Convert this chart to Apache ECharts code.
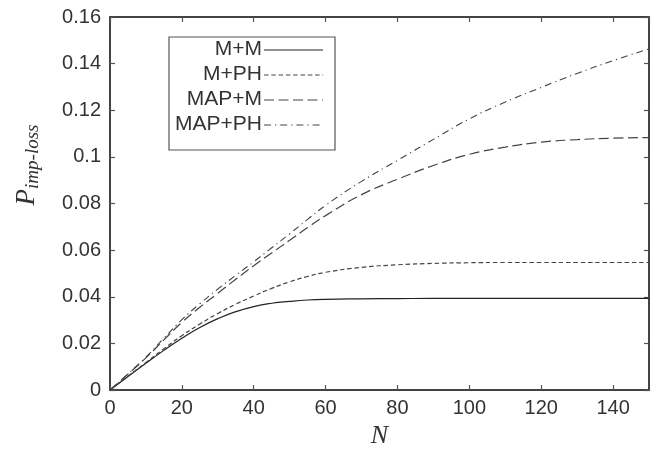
<!DOCTYPE html>
<html>
<head>
<meta charset="utf-8">
<script src="https://cdn.jsdelivr.net/npm/echarts@6/dist/echarts.min.js"></script>
<style>
html,body{margin:0;padding:0;background:#fff;}
#chart{width:651px;height:456px;}
</style>
</head>
<body>
<div id="chart"></div>
<script>
// ---- data ----
var N = [0, 5, 10, 15, 20, 25, 30, 35, 40, 45, 50, 55, 60, 70, 80, 90, 100, 110, 120, 130, 140, 150];
var mPlusM   = [0, 0.0058, 0.0115, 0.0170, 0.0222, 0.0268, 0.0306, 0.0336, 0.0358, 0.0372, 0.0380, 0.0386, 0.0389, 0.0391, 0.0392, 0.0393, 0.0393, 0.0393, 0.0393, 0.0393, 0.0393, 0.0393];
var mPlusPH  = [0, 0.0059, 0.0118, 0.0177, 0.0233, 0.0283, 0.0328, 0.0368, 0.0403, 0.0436, 0.0464, 0.0487, 0.0505, 0.0526, 0.0537, 0.0543, 0.0546, 0.0547, 0.0547, 0.0547, 0.0547, 0.0547];
var mapPlusM = [0, 0.0068, 0.0138, 0.0215, 0.0290, 0.0355, 0.0415, 0.0475, 0.0533, 0.0588, 0.0642, 0.0697, 0.0748, 0.0838, 0.0904, 0.0963, 0.1011, 0.1042, 0.1063, 0.1074, 0.1080, 0.1083];
var mapPlusPH= [0, 0.0069, 0.0141, 0.0222, 0.0302, 0.0370, 0.0433, 0.0492, 0.0550, 0.0610, 0.0670, 0.0732, 0.0792, 0.0895, 0.0985, 0.1075, 0.1163, 0.1235, 0.1298, 0.1358, 0.1413, 0.1463];
var seriesNames = ['M+M', 'M+PH', 'MAP+M', 'MAP+PH'];
var seriesValues = [mPlusM, mPlusPH, mapPlusM, mapPlusPH];
var xTicks = [0, 20, 40, 60, 80, 100, 120, 140];
var yTicks = [0, 0.02, 0.04, 0.06, 0.08, 0.1, 0.12, 0.14, 0.16];

// ---- styles ----
var dashes = ['solid', [4.5, 2.8], [10, 4.5], [7, 4, 1.2, 4]];
var colors = ['#222', '#444', '#444', '#444'];
var widths = [1.2, 1.2, 1.2, 1.1];
var sans = '"Liberation Sans", Arial, sans-serif';
var serif = '"Liberation Serif", "Times New Roman", serif';

function pairs(vals) {
  return N.map(function (n, i) { return [n, vals[i]]; });
}
function axisLine() { return {show: true, onZero: false, lineStyle: {color: '#444', width: 2}}; }
function axisTick() { return {show: true, inside: true, length: 5, lineStyle: {color: '#555', width: 1.2}}; }

var chart = echarts.init(document.getElementById('chart'), null, {renderer: 'canvas'});

var series = seriesNames.map(function (name, i) {
  return {
    name: name, type: 'line', data: pairs(seriesValues[i]),
    smooth: 0.5, showSymbol: false, symbol: 'none',
    lineStyle: {color: colors[i], width: widths[i], type: dashes[i]},
    xAxisIndex: 0, yAxisIndex: 0, silent: true, animation: false
  };
});

// legend via graphic (right-aligned labels, sample line on right)
var legendX = 169, legendY = 37, legendW = 166, legendH = 113;
var rowY = [49, 74, 99, 124];
var graphics = [{
  type: 'rect', shape: {x: legendX, y: legendY, width: legendW, height: legendH},
  style: {fill: '#fff', stroke: '#555', lineWidth: 1.2}, z: 100
}];
seriesNames.forEach(function (name, i) {
  graphics.push({
    type: 'text', z: 101, x: 262, y: rowY[i],
    style: {text: name, align: 'right', verticalAlign: 'middle', fill: '#333',
      font: '21px ' + sans}
  });
  graphics.push({
    type: 'line', z: 101, shape: {x1: 264, y1: rowY[i] + 1, x2: 323, y2: rowY[i] + 1},
    style: {stroke: colors[i], lineWidth: widths[i], lineDash: dashes[i] === 'solid' ? null : dashes[i]}
  });
});
// y-axis title
graphics.push({
  type: 'text', z: 101, x: 27, y: 165, rotation: Math.PI / 2,
  style: {
    text: '{a|P}{b|imp-loss}', align: 'center', verticalAlign: 'middle',
    rich: {
      a: {fontFamily: serif, fontStyle: 'italic', fontSize: 27, fill: '#333'},
      b: {fontFamily: serif, fontStyle: 'italic', fontSize: 19, fill: '#333', padding: [12, 0, 0, 0]}
    }
  }
});

var option = {
  animation: false,
  backgroundColor: '#fff',
  grid: {left: 110, right: 2, top: 17, bottom: 66, containLabel: false},
  xAxis: [{
    type: 'value', min: 0, max: 150, interval: 20, position: 'bottom',
    name: 'N', nameLocation: 'middle', nameGap: 30,
    nameTextStyle: {fontFamily: serif, fontStyle: 'italic', fontSize: 26, color: '#333'},
    axisLine: axisLine(), axisTick: axisTick(), splitLine: {show: false},
    axisLabel: {show: true, margin: 8, showMaxLabel: false,
      color: '#333', fontSize: 20, fontFamily: sans,
      formatter: function (v) { return xTicks.indexOf(v) >= 0 ? String(v) : ''; }}
  }, {
    type: 'value', min: 0, max: 150, interval: 20, position: 'top',
    axisLine: axisLine(), axisTick: axisTick(), splitLine: {show: false}, axisLabel: {show: false}
  }],
  yAxis: [{
    type: 'value', min: 0, max: 0.16, interval: 0.02, position: 'left',
    axisLine: axisLine(), axisTick: axisTick(), splitLine: {show: false},
    axisLabel: {show: true, margin: 9, color: '#333', fontSize: 20, fontFamily: sans,
      formatter: function (v) {
        for (var k = 0; k < yTicks.length; k++) { if (Math.abs(yTicks[k] - v) < 1e-9) return String(yTicks[k]); }
        return '';
      }}
  }, {
    type: 'value', min: 0, max: 0.16, interval: 0.02, position: 'right',
    axisLine: axisLine(), axisTick: axisTick(), splitLine: {show: false}, axisLabel: {show: false}
  }],
  series: series,
  graphic: graphics
};
chart.setOption(option);
</script>
</body>
</html>
